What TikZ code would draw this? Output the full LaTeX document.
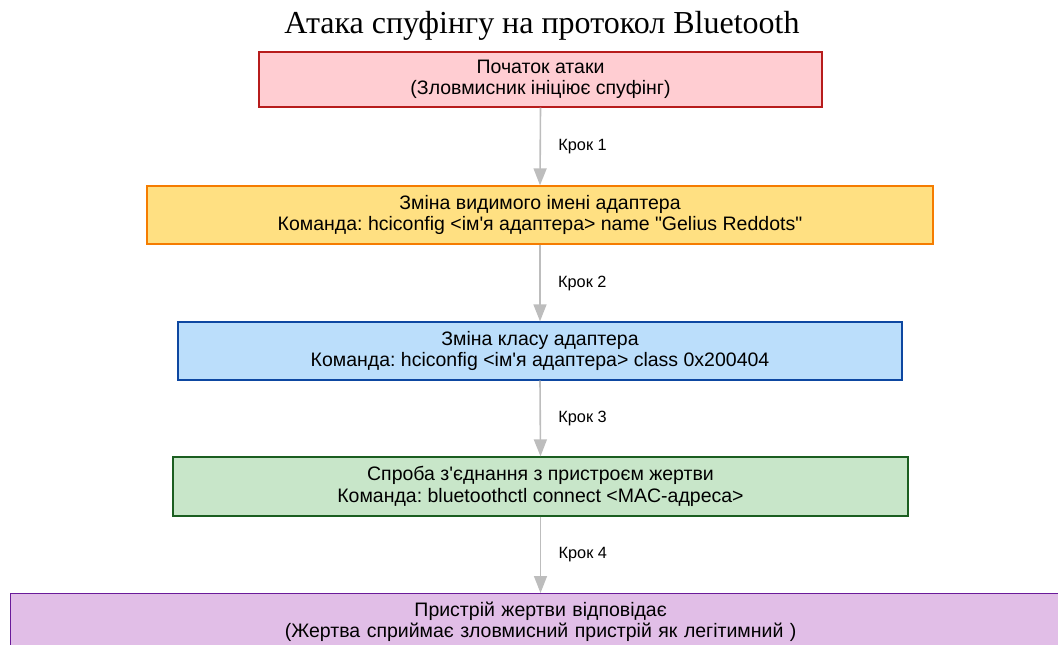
\documentclass[tikz,border=0pt]{standalone}
\usepackage{fontspec}
\setmainfont{Liberation Sans}[Ligatures=TeXOff]
\newfontfamily\titlefont{Liberation Serif}
\usetikzlibrary{arrows.meta}
\definecolor{redfill}{HTML}{FFCDD2}\definecolor{redline}{HTML}{B71C1C}
\definecolor{orfill}{HTML}{FFE082}\definecolor{orline}{HTML}{F57C00}
\definecolor{blfill}{HTML}{BBDEFB}\definecolor{blline}{HTML}{0D47A1}
\definecolor{grfill}{HTML}{C8E6C9}\definecolor{grline}{HTML}{1B5E20}
\definecolor{pufill}{HTML}{E1BEE7}\definecolor{puline}{HTML}{6A1B9A}
\definecolor{arrowgray}{HTML}{BDBDBD}
\tikzset{
  stepbox/.style={draw, line width=1.3pt, inner sep=0pt, align=center,
    font=\frenchspacing\fontsize{19.5}{21.5}\selectfont, text=black},
  conn/.style={draw=arrowgray, line width=1.6pt,
    -{Triangle[length=17pt,width=13pt,fill=arrowgray]}},
  steplabel/.style={font=\fontsize{16.3}{18}\selectfont, anchor=west}
}
\begin{document}
\begin{tikzpicture}[x=1pt,y=-1pt]
\useasboundingbox (0,0) rectangle (1058,645);
\node[font=\titlefont\fontsize{32}{34}\selectfont] (title) at (542,26) {Атака спуфінгу на протокол Bluetooth};
\node[stepbox, fill=redfill, draw=redline, minimum width=563pt, minimum height=55pt] (b1) at (540.5,79.5)
  {Початок атаки\\(Зловмисник ініціює спуфінг)};
\node[stepbox, fill=orfill, draw=orline, minimum width=786pt, minimum height=58pt] (b2) at (540,215)
  {Зміна видимого імені адаптера\\Команда: hciconfig <ім'я адаптера> name "Gelius Reddots"};
\node[stepbox, fill=blfill, draw=blline, minimum width=724pt, minimum height=58pt] (b3) at (540,351)
  {Зміна класу адаптера\\Команда: hciconfig <ім'я адаптера> class 0x200404};
\node[stepbox, fill=grfill, draw=grline, minimum width=735pt, minimum height=59pt] (b4) at (540.5,486.5)
  {Спроба з'єднання з пристроєм жертви\\Команда: bluetoothctl connect <MAC-адреса>};
\node[stepbox, fill=pufill, draw=puline, minimum width=1060pt, minimum height=56pt, anchor=north west, text width=1060pt] (b5) at (10,593)
  {Пристрій жертви відповідає\\(Жертва сприймає зловмисний пристрій як легітимний )};
\draw[conn] (b1.south) -- (b2.north) node[midway, steplabel, xshift=14pt] {Крок 1};
\draw[conn] (b2.south) -- (b3.north) node[midway, steplabel, xshift=14pt] {Крок 2};
\draw[conn] (b3.south) -- (b4.north) node[midway, steplabel, xshift=14pt] {Крок 3};
\draw[conn] (b4.south) -- (b5.north -| b4.south) node[midway, steplabel, xshift=14pt] {Крок 4};
\end{tikzpicture}
\end{document}
